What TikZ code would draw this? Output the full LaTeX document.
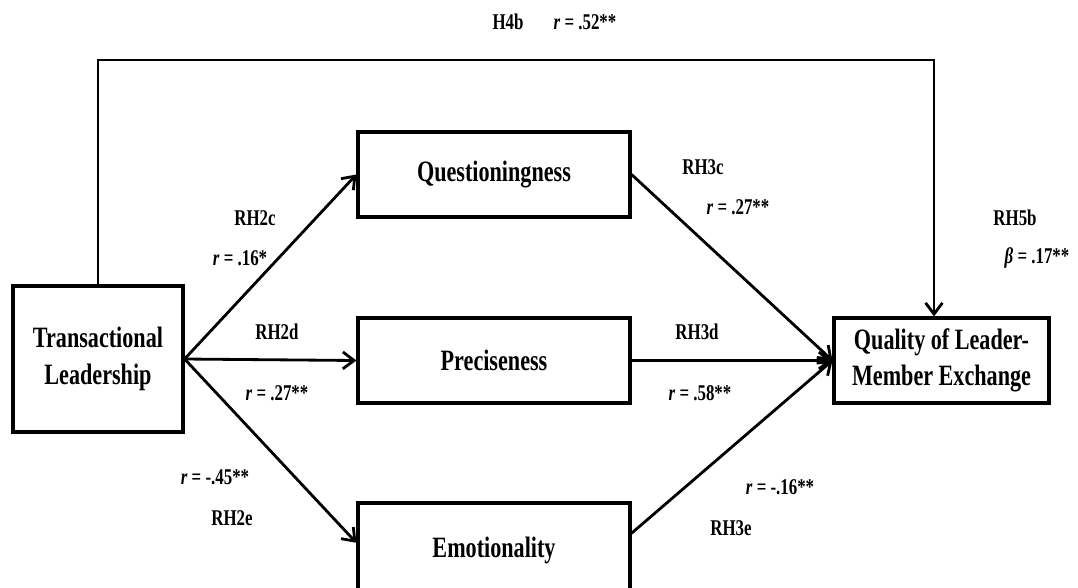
\documentclass[tikz,border=0pt]{standalone}
\usepackage{fontspec}
\setmainfont[FakeStretch=0.75]{Liberation Serif}
\usetikzlibrary{positioning, arrows.meta}
\tikzset{
  varbox/.style={rectangle, draw=black, line width=2.2pt, fill=white,
                 minimum width=6.8cm, minimum height=2.125cm,
                 align=center, font=\fontsize{21}{26}\selectfont\bfseries},
  pathlab/.style={font=\fontsize{16}{18}\selectfont\bfseries, inner sep=0pt},
  myarr/.style={-{Straight Barb[length=8pt, width=12pt]}, line width=2pt, draw=black},
}

\begin{document}
\begin{tikzpicture}[x=0.025cm, y=-0.025cm]
  \useasboundingbox (0,0) rectangle (1078,587);

  \node[varbox, minimum width=4.25cm, minimum height=3.65cm] (trans) at (98,359) {Transactional\\Leadership};
  \node[varbox] (quest) at (494,174.5) {Questioningness};
  \node[varbox] (prec)  at (494,360.5) {Preciseness};
  \node[varbox, minimum height=2.35cm] (emo) at (494,550) {Emotionality};
  \node[varbox, minimum width=5.375cm] (lmx) at (941.5,360.5) {Quality of Leader-\\Member Exchange};

  \coordinate (topL) at (98,60);
  \coordinate (topR) at (934,60);

  \draw[myarr] (trans.north) -- (topL) -- (topR) -- (topR |- lmx.north);
  \draw[myarr] (trans.east) -- (quest.west);
  \draw[myarr] (trans.east) -- (prec.west);
  \draw[myarr] (trans.east) -- ([yshift=0.18cm]emo.west);
  \draw[myarr] (quest.east) -- (lmx.west);
  \draw[myarr] (prec.east)  -- (lmx.west);
  \draw[myarr] ([yshift=0.42cm]emo.east) -- (lmx.west);

  \node[pathlab] (h4b)  at (508,22)  {H4b};
  \node[pathlab] (r52)  at (585,22)  {\textit{r} = .52**};
  \node[pathlab] (rh2c) at (255,218) {RH2c};
  \node[pathlab] (r16)  at (240,258) {\textit{r} = .16*};
  \node[pathlab] (rh2d) at (277,332) {RH2d};
  \node[pathlab] (r27a) at (277,393) {\textit{r} = .27**};
  \node[pathlab] (r45)  at (215,477) {\textit{r} = -.45**};
  \node[pathlab] (rh2e) at (232,518) {RH2e};
  \node[pathlab] (rh3c) at (703,167) {RH3c};
  \node[pathlab] (r27b) at (738,207) {\textit{r} = .27**};
  \node[pathlab] (rh3d) at (697,332) {RH3d};
  \node[pathlab] (r58)  at (700,393) {\textit{r} = .58**};
  \node[pathlab] (r16b) at (780,487) {\textit{r} = -.16**};
  \node[pathlab] (rh3e) at (731,528) {RH3e};
  \node[pathlab] (rh5b) at (1015,218) {RH5b};
  \node[pathlab] (b17)  at (1037,258) {\textit{β} = .17**};

\end{tikzpicture}
\end{document}
